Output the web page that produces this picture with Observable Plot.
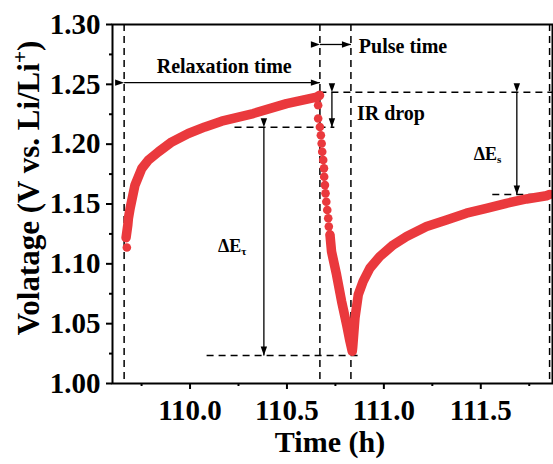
<!DOCTYPE html>
<html><head><meta charset="utf-8">
<script src="https://cdn.jsdelivr.net/npm/d3@7"></script>
<script src="https://cdn.jsdelivr.net/npm/@observablehq/plot@0.6"></script>
<style>body{margin:0;background:#fff}</style>
</head><body><div id="chart"></div>
<script>
// Tick values
const xTicks = [110.0, 110.5, 111.0, 111.5];
const xMinor = [109.75, 110.25, 110.75, 111.25, 111.75];
const yTicks = [1.00, 1.05, 1.10, 1.15, 1.20, 1.25, 1.30];
const yMinor = [1.025, 1.075, 1.125, 1.175, 1.225, 1.275];

// Relaxation segment (dense, drawn as a band)
const relaxT = [109.670, 109.679, 109.682, 109.691, 109.716, 109.751, 109.785, 109.837, 109.906, 109.991, 110.077, 110.163, 110.326, 110.498, 110.653, 110.668];
const relaxV = [1.1219, 1.1325, 1.1380, 1.1464, 1.1658, 1.1797, 1.1867, 1.1936, 1.2019, 1.2089, 1.2144, 1.2192, 1.2256, 1.2339, 1.2394, 1.2408];
// Isolated first point
const startT = [109.674];
const startV = [1.1136];
// IR drop / early pulse (sparse points)
const dropT = [110.661, 110.661, 110.670, 110.675, 110.679, 110.682, 110.687, 110.691, 110.692, 110.696, 110.699, 110.703, 110.708, 110.713, 110.716, 110.722];
const dropV = [1.2325, 1.2214, 1.2144, 1.2075, 1.2006, 1.1936, 1.1867, 1.1798, 1.1728, 1.1658, 1.1589, 1.1519, 1.1450, 1.1381, 1.1311, 1.1242];
// Late pulse (dense)
const pulseT = [110.722, 110.730, 110.756, 110.782, 110.808, 110.825, 110.837];
const pulseV = [1.1242, 1.1103, 1.0908, 1.0686, 1.0492, 1.0353, 1.0269];
// Recovery (dense)
const recoverT = [110.837, 110.839, 110.851, 110.868, 110.893, 110.928, 110.979, 111.048, 111.117, 111.220, 111.323, 111.426, 111.529, 111.632, 111.736, 111.839, 111.856];
const recoverV = [1.0269, 1.0298, 1.0548, 1.0742, 1.0853, 1.0964, 1.1061, 1.1158, 1.1228, 1.1311, 1.1367, 1.1423, 1.1464, 1.1506, 1.1542, 1.1569, 1.1580];

// Annotation guides
const vGuides = [109.66, 110.67, 110.83, 111.855];
const hGuideV  = [1.2434, 1.2142, 1.0233, 1.158];
const hGuideX1 = [110.67, 110.232, 110.088, 111.562];
const hGuideX2 = [111.87, 110.747, 110.876, 111.87];
// Double-headed arrows
const arrowX1 = [109.66, 110.67, 110.732, 111.686, 110.381];
const arrowY1 = [1.2514, 1.2833, 1.2434, 1.2434, 1.2142];
const arrowX2 = [110.67, 110.83, 110.732, 111.686, 110.381];
const arrowY2 = [1.2514, 1.2833, 1.2142, 1.158, 1.0233];
// Labels
const labelText = ["Relaxation time", "Pulse time", "IR drop"];
const labelX = [109.828, 110.871, 110.861];
const labelY = [1.2592, 1.2758, 1.2206];
const deltaText = ["ΔE_s", "ΔE_τ"];
const deltaX = [111.464, 110.144];
const deltaY = [1.1867, 1.1100];

const RED = "#ea393d";
const FONT = "'Liberation Serif','Times New Roman',serif";

const band = [
  ...relaxT.map((t, i) => ({t, v: relaxV[i], seg: "relax"})),
  ...pulseT.map((t, i) => ({t, v: pulseV[i], seg: "pulse"})),
  ...recoverT.map((t, i) => ({t, v: recoverV[i], seg: "pulse"}))
];
const dots = [
  ...startT.map((t, i) => ({t, v: startV[i]})),
  ...dropT.map((t, i) => ({t, v: dropV[i]}))
];
const hGuides = hGuideV.map((v, i) => ({v, a: hGuideX1[i], b: hGuideX2[i]}));
const arrows = arrowX1.map((x1, i) => ({x1, y1: arrowY1[i], x2: arrowX2[i], y2: arrowY2[i]}));
const labels = labelText.map((s, i) => ({s, x: labelX[i], y: labelY[i]}));
const deltas = deltaText.map((s, i) => ({s, x: deltaX[i], y: deltaY[i]}));

const chart = Plot.plot({
  width: 553, height: 464,
  marginLeft: 112, marginRight: 1, marginTop: 24, marginBottom: 81,
  x: {domain: [109.6, 111.87], label: null},
  y: {domain: [1.0, 1.3], label: null},
  style: {fontFamily: FONT, fontWeight: "bold", background: "#fff", color: "#000"},
  marks: [
    Plot.ruleX(vGuides, {stroke: "#000", strokeWidth: 1.5, strokeDasharray: "7,5"}),
    Plot.ruleY(hGuides, {y: "v", x1: "a", x2: "b", stroke: "#000", strokeWidth: 1.5, strokeDasharray: "7,5"}),
    Plot.line(band, {x: "t", y: "v", z: "seg", stroke: RED, strokeWidth: 9.5, strokeLinecap: "round", strokeLinejoin: "round"}),
    Plot.dot(dots, {x: "t", y: "v", r: 4.3, fill: RED}),
    Plot.link(arrows, {x1: "x1", y1: "y1", x2: "x2", y2: "y2", stroke: "#000", strokeWidth: 1.3, markerStart: "arrow", markerEnd: "arrow"}),
    Plot.text(labels, {x: "x", y: "y", text: "s", textAnchor: "start", lineAnchor: "bottom", fontSize: 20, fill: "#000"}),
    Plot.text(deltas, {x: "x", y: "y", text: "s", textAnchor: "start", lineAnchor: "bottom", fontSize: 18, fill: "#000"}),
    Plot.axisY(yTicks, {tickSize: 6, tickPadding: 6, tickFormat: d3.format(".2f"), fontSize: 29, strokeWidth: 2, label: null}),
    Plot.axisY(yMinor, {tickSize: 3, tickFormat: () => "", strokeWidth: 2, label: null}),
    Plot.axisX(xTicks, {tickSize: 6, tickPadding: 10, tickFormat: d3.format(".1f"), fontSize: 29, strokeWidth: 2, label: null}),
    Plot.axisX(xMinor, {tickSize: 3, tickFormat: () => "", strokeWidth: 2, label: null}),
    Plot.frame({stroke: "#000", strokeWidth: 2})
  ]
});

// Filled arrowheads
chart.querySelectorAll("marker").forEach(m => {
  m.setAttribute("fill", "#000");
  m.setAttribute("stroke", "none");
  m.setAttribute("overflow", "visible");
  m.setAttribute("markerUnits", "userSpaceOnUse");
  m.setAttribute("markerWidth", "10");
  m.setAttribute("markerHeight", "10");
  m.setAttribute("viewBox", "-5 -5 10 10");
  const p = m.querySelector("path");
  if (p) {
    p.setAttribute("d", "M-9,-3.2L0,0L-9,3.2Z");
    p.setAttribute("fill", "#000");
    p.setAttribute("stroke", "none");
  }
});

// Subscripts for ΔE labels
chart.querySelectorAll("text").forEach(el => {
  const c = el.textContent;
  if (c === "ΔE_s" || c === "ΔE_τ") {
    el.textContent = "";
    const ns = "http://www.w3.org/2000/svg";
    const a = document.createElementNS(ns, "tspan");
    a.textContent = "ΔE";
    const b = document.createElementNS(ns, "tspan");
    b.textContent = c.slice(3);
    b.setAttribute("font-size", "0.62em");
    b.setAttribute("dy", "0.3em");
    el.appendChild(a); el.appendChild(b);
  }
});

const svg = d3.select(chart);
svg.append("text")
  .attr("x", 330).attr("y", 452)
  .attr("text-anchor", "middle")
  .attr("font-size", 30).attr("font-weight", "bold").attr("font-family", FONT)
  .attr("fill", "#000")
  .text("Time (h)");

const yt = svg.append("text")
  .attr("transform", "translate(39,188) rotate(-90)")
  .attr("text-anchor", "middle")
  .attr("font-size", 31).attr("font-weight", "bold").attr("font-family", FONT)
  .attr("fill", "#000");
yt.append("tspan").text("Volatage (V vs. Li/Li");
yt.append("tspan").attr("font-size", "0.68em").attr("baseline-shift", "super").text("+");
yt.append("tspan").text(")");

document.getElementById("chart").appendChild(chart);
</script>
</body></html>
